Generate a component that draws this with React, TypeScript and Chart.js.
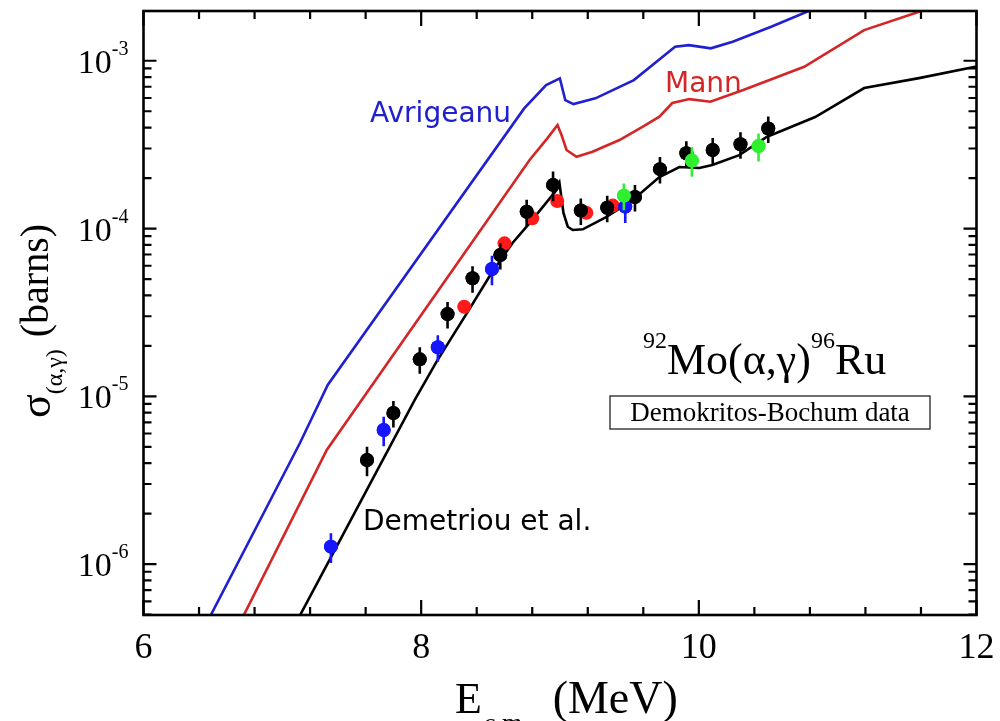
import React, { useEffect, useRef } from 'react';
import { Chart, registerables } from 'chart.js';

Chart.register(...registerables);

const SERIF = '"Liberation Serif", "Times New Roman", serif';
const SANS = '"DejaVu Sans", Verdana, sans-serif';

// ---- measured data (E_cm in MeV, sigma in barns, err = relative uncertainty) ----
const blackE = [7.61, 7.8, 7.99, 8.19, 8.37, 8.57, 8.76, 8.95, 9.15, 9.34, 9.54, 9.72, 9.91, 10.1, 10.3, 10.5];
const blackSigma = [4.17e-6, 7.95e-6, 1.66e-5, 3.09e-5, 5.05e-5, 6.95e-5, 1.26e-4, 1.82e-4, 1.28e-4, 1.33e-4, 1.54e-4, 2.26e-4, 2.81e-4, 2.94e-4, 3.18e-4, 3.95e-4];
const blackErr = [0.2, 0.18, 0.18, 0.18, 0.18, 0.18, 0.18, 0.2, 0.18, 0.18, 0.18, 0.18, 0.18, 0.18, 0.18, 0.18];

const blueE = [7.35, 7.73, 8.12, 8.51, 9.47];
const blueSigma = [1.27e-6, 6.3e-6, 1.96e-5, 5.74e-5, 1.35e-4];
const blueErr = [0.2, 0.2, 0.18, 0.2, 0.2];

const redE = [8.31, 8.6, 8.8, 8.98, 9.19, 9.38];
const redSigma = [3.42e-5, 8.16e-5, 1.15e-4, 1.46e-4, 1.24e-4, 1.37e-4];

const greenE = [9.46, 9.95, 10.43];
const greenSigma = [1.57e-4, 2.54e-4, 3.1e-4];
const greenErr = [0.18, 0.2, 0.19];

// ---- model curves ----
const demetriouE = [7.09, 7.953, 8.109, 8.325, 8.507, 8.658, 8.781, 8.975, 8.996, 9.025, 9.056, 9.092, 9.164, 9.332, 9.524, 9.716, 9.86, 10.003, 10.097, 10.291, 10.486, 10.558, 10.838, 11.191, 11.586, 12.0];
const demetriouSigma = [4.33e-7, 9.5e-6, 1.6e-5, 3.09e-5, 5.43e-5, 8.2e-5, 1.078e-4, 1.696e-4, 1.867e-4, 1.238e-4, 1.025e-4, 9.8e-5, 9.89e-5, 1.171e-4, 1.479e-4, 2.027e-4, 2.325e-4, 2.294e-4, 2.39e-4, 2.74e-4, 3.51e-4, 3.71e-4, 4.62e-4, 6.88e-4, 7.88e-4, 9.25e-4];

const mannE = [6.68, 7.32, 8.781, 8.91, 8.982, 9.011, 9.047, 9.119, 9.234, 9.428, 9.594, 9.716, 9.809, 9.932, 10.083, 10.32, 10.759, 11.191, 11.586, 11.99];
const mannSigma = [4.22e-7, 4.79e-6, 2.56e-4, 3.46e-4, 4.14e-4, 3.61e-4, 2.94e-4, 2.68e-4, 2.87e-4, 3.37e-4, 4.04e-4, 4.64e-4, 5.6e-4, 5.91e-4, 5.7e-4, 6.69e-4, 9.21e-4, 1.524e-3, 1.959e-3, 2.53e-3];

const avrigeanuE = [6.442, 7.126, 7.327, 8.742, 8.9, 8.999, 9.038, 9.097, 9.255, 9.532, 9.829, 9.928, 10.086, 10.244, 10.521, 10.778, 11.083];
const avrigeanuSigma = [4.24e-7, 5.25e-6, 1.168e-5, 5.2e-4, 7.16e-4, 7.85e-4, 5.83e-4, 5.52e-4, 5.97e-4, 7.67e-4, 1.212e-3, 1.24e-3, 1.186e-3, 1.298e-3, 1.594e-3, 1.959e-3, 2.5e-3];

// ---- axes ----
const xMin = 6;
const xMax = 12;
const yMin = 4.97e-7;
const yMax = 1.98e-3;
const xMajorTicks = [6, 8, 10, 12];
const xMinorTicks = [6.4, 6.8, 7.2, 7.6, 8.4, 8.8, 9.2, 9.6, 10.4, 10.8, 11.2, 11.6];
const yLabelDecades = [-6, -5, -4, -3];
const yTickDecades = [-7, -6, -5, -4, -3];
const yMinorMultipliers = [2, 3, 4, 5, 6, 7, 8, 9];

const BLUE_LINE = '#2020d0';
const RED_LINE = '#d42626';
const BLUE_PT = '#1515ff';
const RED_PT = '#ff1a1a';
const GREEN_PT = '#2ef02e';

const errorBars: Record<string, { e: number[]; s: number[]; err: number[]; color: string }> = {
  black: { e: blackE, s: blackSigma, err: blackErr, color: '#000' },
  blue: { e: blueE, s: blueSigma, err: blueErr, color: BLUE_PT },
  green: { e: greenE, s: greenSigma, err: greenErr, color: GREEN_PT },
};

const toXY = (xs: number[], ys: number[]) => xs.map((x, i) => ({ x, y: ys[i] }));

const decorPlugin = {
  id: 'decor',
  beforeDraw(chart: any) {
    const { ctx, width, height } = chart;
    ctx.save();
    ctx.fillStyle = '#fff';
    ctx.fillRect(0, 0, width, height);
    ctx.restore();
  },
  afterDatasetDraw(chart: any, args: any) {
    const ds = chart.data.datasets[args.index];
    const eb = errorBars[ds.label];
    if (!eb) return;
    const { ctx } = chart;
    const xs = chart.scales.x;
    const ys = chart.scales.y;
    ctx.save();
    ctx.strokeStyle = eb.color;
    ctx.lineWidth = 2.6;
    ctx.beginPath();
    eb.e.forEach((e, i) => {
      const px = xs.getPixelForValue(e);
      ctx.moveTo(px, ys.getPixelForValue(eb.s[i] * (1 + eb.err[i])));
      ctx.lineTo(px, ys.getPixelForValue(eb.s[i] * (1 - eb.err[i])));
    });
    ctx.stroke();
    ctx.fillStyle = eb.color;
    eb.e.forEach((e, i) => {
      ctx.beginPath();
      ctx.arc(xs.getPixelForValue(e), ys.getPixelForValue(eb.s[i]), 7, 0, Math.PI * 2);
      ctx.fill();
    });
    ctx.restore();
  },
  afterDraw(chart: any) {
    const { ctx, chartArea: a } = chart;
    const xs = chart.scales.x;
    const ys = chart.scales.y;
    ctx.save();
    // frame
    ctx.strokeStyle = '#000';
    ctx.lineWidth = 2.6;
    ctx.strokeRect(a.left, a.top, a.right - a.left, a.bottom - a.top);
    // ticks
    ctx.lineWidth = 2.2;
    ctx.beginPath();
    const xTick = (v: number, len: number) => {
      const px = xs.getPixelForValue(v);
      ctx.moveTo(px, a.bottom);
      ctx.lineTo(px, a.bottom - len);
      ctx.moveTo(px, a.top);
      ctx.lineTo(px, a.top + len);
    };
    xMajorTicks.forEach((v) => xTick(v, 15));
    xMinorTicks.forEach((v) => xTick(v, 8));
    yTickDecades.forEach((d) => {
      [1, ...yMinorMultipliers].forEach((m) => {
        const v = m * Math.pow(10, d);
        if (v < yMin || v > yMax) return;
        const py = ys.getPixelForValue(v);
        const len = m === 1 ? 13 : 8;
        ctx.moveTo(a.left, py);
        ctx.lineTo(a.left + len, py);
        ctx.moveTo(a.right, py);
        ctx.lineTo(a.right - len, py);
      });
    });
    ctx.stroke();

    ctx.fillStyle = '#000';
    ctx.textBaseline = 'alphabetic';
    // x tick labels
    ctx.font = `36px ${SERIF}`;
    ctx.textAlign = 'center';
    xMajorTicks.forEach((v) => {
      ctx.fillText(String(v), xs.getPixelForValue(v), 658);
    });
    // y tick labels 10^n
    yLabelDecades.forEach((d) => {
      const py = ys.getPixelForValue(Math.pow(10, d));
      const sup = String(d);
      ctx.font = `20px ${SERIF}`;
      const wSup = ctx.measureText(sup).width;
      const right = a.left - 15;
      ctx.textAlign = 'left';
      ctx.fillText(sup, right - wSup, py - 6);
      ctx.font = `34px ${SERIF}`;
      ctx.textAlign = 'right';
      ctx.fillText('10', right - wSup, py + 12);
    });

    // x axis title
    ctx.textAlign = 'left';
    let x = 455;
    ctx.font = `44px ${SERIF}`;
    ctx.fillText('E', x, 713);
    x += ctx.measureText('E').width;
    ctx.font = `26px ${SERIF}`;
    ctx.fillText('c.m.', x + 2, 731);
    x += ctx.measureText('c.m.').width + 26;
    ctx.font = `46px ${SERIF}`;
    ctx.fillText('(MeV)', x, 713);

    // y axis title (rotated)
    ctx.save();
    ctx.translate(50, (a.top + a.bottom) / 2 + 8);
    ctx.rotate(-Math.PI / 2);
    ctx.font = `44px ${SERIF}`;
    const wS = ctx.measureText('σ').width;
    ctx.font = `24px ${SERIF}`;
    const wSub = ctx.measureText('(α,γ)').width;
    ctx.font = `40px ${SERIF}`;
    const wB = ctx.measureText('(barns)').width;
    const gap = 12;
    let t = -(wS + wSub + gap + wB) / 2;
    ctx.font = `44px ${SERIF}`;
    ctx.fillText('σ', t, 0);
    t += wS;
    ctx.font = `24px ${SERIF}`;
    ctx.fillText('(α,γ)', t, 12);
    t += wSub + gap;
    ctx.font = `40px ${SERIF}`;
    ctx.fillText('(barns)', t, -2);
    ctx.restore();

    // curve labels
    ctx.font = `28px ${SANS}`;
    ctx.fillStyle = BLUE_LINE;
    ctx.fillText('Avrigeanu', 370, 122);
    ctx.fillStyle = RED_LINE;
    ctx.fillText('Mann', 665, 92);
    ctx.fillStyle = '#000';
    ctx.fillText('Demetriou et al.', 363, 530);

    // reaction label
    let rx = 643;
    ctx.font = `24px ${SERIF}`;
    ctx.fillText('92', rx, 348);
    rx += ctx.measureText('92').width;
    ctx.font = `44px ${SERIF}`;
    ctx.fillText('Mo(α,γ)', rx, 374);
    rx += ctx.measureText('Mo(α,γ)').width;
    ctx.font = `24px ${SERIF}`;
    ctx.fillText('96', rx, 348);
    rx += ctx.measureText('96').width;
    ctx.font = `44px ${SERIF}`;
    ctx.fillText('Ru', rx, 374);

    // data box
    ctx.lineWidth = 1.3;
    ctx.strokeStyle = '#222';
    ctx.strokeRect(610, 396, 320, 33);
    ctx.font = `27px ${SERIF}`;
    ctx.textAlign = 'center';
    ctx.fillText('Demokritos-Bochum data', 770, 421);
    ctx.restore();
  },
};

export default function App() {
  const ref = useRef<HTMLCanvasElement | null>(null);
  useEffect(() => {
    if (!ref.current) return;
    const curve = (label: string, xs: number[], ys: number[], color: string, order: number) => ({
      label,
      data: toXY(xs, ys),
      showLine: true,
      borderColor: color,
      backgroundColor: color,
      borderWidth: 2.6,
      pointRadius: 0,
      tension: 0,
      fill: false,
      order,
    });
    const pts = (label: string, xs: number[], ys: number[], color: string, order: number) => ({
      label,
      data: toXY(xs, ys),
      showLine: false,
      pointRadius: 7,
      pointBackgroundColor: color,
      pointBorderColor: color,
      pointBorderWidth: 0,
      order,
    });
    const chart = new Chart(ref.current, {
      type: 'scatter',
      data: {
        datasets: [
          pts('green', greenE, greenSigma, GREEN_PT, 1),
          pts('black', blackE, blackSigma, '#000', 2),
          pts('blue', blueE, blueSigma, BLUE_PT, 3),
          pts('red', redE, redSigma, RED_PT, 4),
          curve('Demetriou', demetriouE, demetriouSigma, '#000', 5),
          curve('Mann', mannE, mannSigma, RED_LINE, 6),
          curve('Avrigeanu', avrigeanuE, avrigeanuSigma, BLUE_LINE, 7),
        ] as any,
      },
      options: {
        animation: false,
        responsive: true,
        maintainAspectRatio: false,
        events: [],
        layout: { padding: { left: 143.5, right: 23.5, top: 11, bottom: 106 } },
        plugins: { legend: { display: false }, tooltip: { enabled: false } },
        scales: {
          x: { type: 'linear', min: xMin, max: xMax, display: false },
          y: { type: 'logarithmic', min: yMin, max: yMax, display: false },
        },
      } as any,
      plugins: [decorPlugin],
    });
    return () => chart.destroy();
  }, []);
  return (
    <div style={{ position: 'absolute', left: 0, top: 0, width: 1000, height: 721, background: '#fff' }}>
      <canvas ref={ref} />
    </div>
  );
}
